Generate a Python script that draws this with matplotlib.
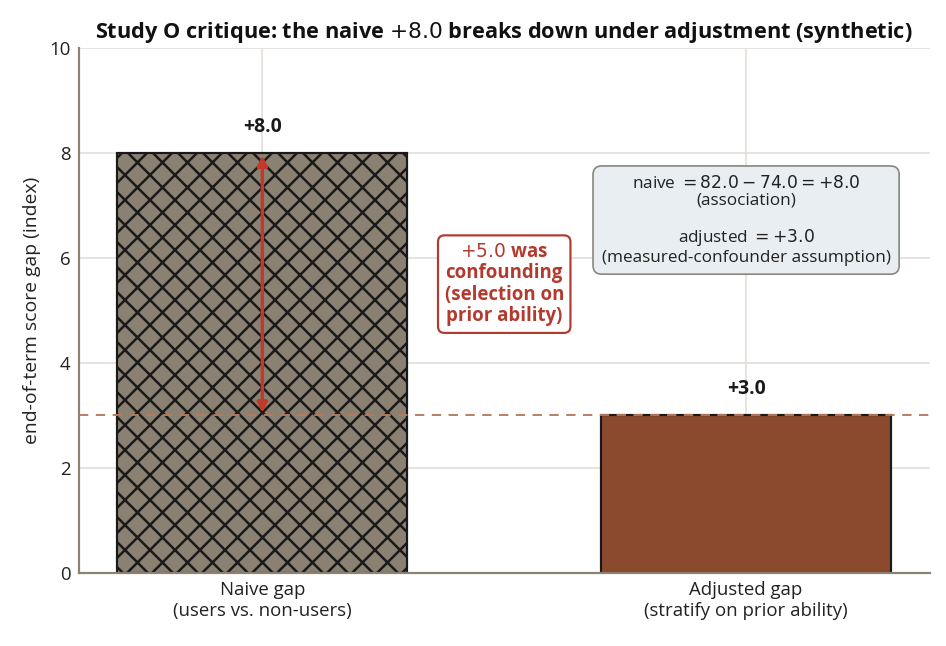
import matplotlib
matplotlib.use("Agg")
import matplotlib.pyplot as plt

# the hatch spacing follows the dpi, 150 with 'xx' gives the reference's diamonds;
# sizes below are given as if at 112 dpi and scaled by K
DPI = 150
K = 112 / DPI

plt.rcParams['font.family'] = ['Open Sans', 'DejaVu Sans']
plt.rcParams['hatch.color'] = '#1a1a1a'
plt.rcParams['hatch.linewidth'] = 1.2

# data
categories = ['Naive gap\n(users vs. non-users)', 'Adjusted gap\n(stratify on prior ability)']
gaps = [8.0, 3.0]
naive_treated = 82.0
naive_control = 74.0
confounding = gaps[0] - gaps[1]

bar_colors = ['#8a8172', '#8b4a2d']
hatches = ['xx', '']
spine_col = '#8c8272'

fig, ax = plt.subplots(figsize=(946 / DPI, 646 / DPI), dpi=DPI)

x = list(range(len(categories)))
bars = ax.bar(x, gaps, width=0.6, color=bar_colors, edgecolor='#1a1a1a',
              linewidth=1.4 * K, zorder=2)
for b, h in zip(bars, hatches):
    b.set_hatch(h)

for xi, v in zip(x, gaps):
    ax.text(xi, v + 0.5, f'+{v:.1f}', ha='center', va='center',
            fontsize=12.5 * K, fontweight='bold', color='#1a1a1a', zorder=4)

ax.axhline(gaps[1], color='#b87a5e', linestyle=(0, (5, 4)), linewidth=1.2 * K, zorder=3)

ax.annotate('', xy=(0, gaps[0] - 0.05), xytext=(0, gaps[1] + 0.05),
            arrowprops=dict(arrowstyle='<|-|>', color='#c0392b', lw=2.2 * K,
                            mutation_scale=13 * K, shrinkA=0, shrinkB=0), zorder=4)

ax.text(0.5, 5.5, f'$+{confounding:.1f}$ was\nconfounding\n(selection on\nprior ability)',
        ha='center', va='center', fontsize=12 * K, fontweight='bold', color='#b33a2e',
        linespacing=1.1, zorder=5,
        bbox=dict(boxstyle='round,pad=0.35', facecolor='white', edgecolor='#b33a2e', lw=1.4 * K))

info = (f'naive $= {naive_treated:.1f} - {naive_control:.1f} = +{gaps[0]:.1f}$\n(association)\n\n'
        f'adjusted $= +{gaps[1]:.1f}$\n(measured-confounder assumption)')
ax.text(1.0, 6.72, info, ha='center', va='center', fontsize=11 * K, color='#222222',
        linespacing=1.1, zorder=5,
        bbox=dict(boxstyle='round,pad=0.5', facecolor='#e8eef1', edgecolor='#8a8a80', lw=1.1 * K))

ax.set_ylim(0, 10)
ax.set_xticks(x)
ax.set_xticklabels(categories, fontsize=12 * K, color='#222222')
ax.tick_params(axis='y', labelsize=12 * K, labelcolor='#222222')
ax.tick_params(length=0, pad=5 * K)
ax.set_ylabel('end-of-term score gap (index)', fontsize=12.5 * K, color='#222222')
ax.set_title(f'Study O critique: the naive $+{gaps[0]:.1f}$ breaks down under adjustment (synthetic)',
             fontsize=14 * K, fontweight='bold', color='#111111', pad=6 * K)

ax.grid(True, color='#e0dcd8', linewidth=1 * K, zorder=0)
ax.set_axisbelow(True)
for s in ['top', 'right']:
    ax.spines[s].set_visible(False)
for s in ['left', 'bottom']:
    ax.spines[s].set_color(spine_col)
    ax.spines[s].set_linewidth(1.4 * K)

fig.subplots_adjust(left=0.083, right=0.983, top=0.926, bottom=0.113)
fig.savefig('out.png', dpi=DPI)
